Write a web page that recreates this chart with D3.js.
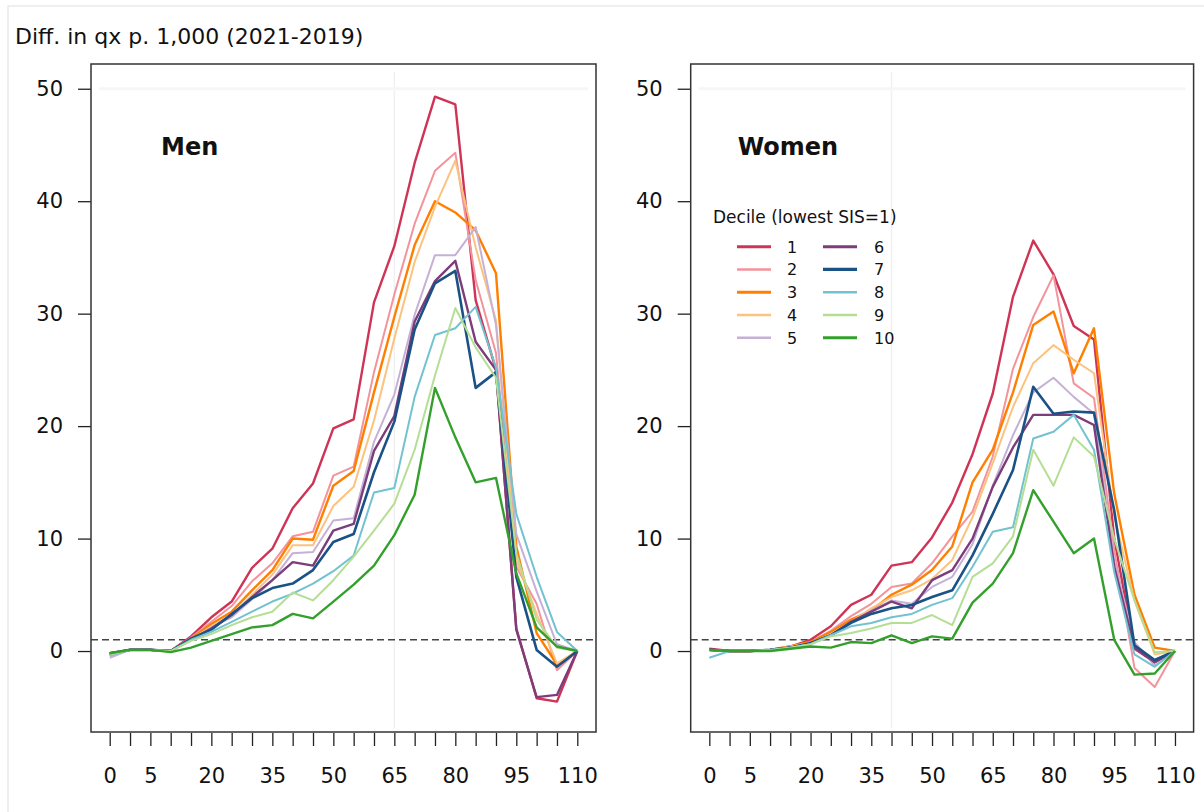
<!DOCTYPE html>
<html>
<head>
<meta charset="utf-8">
<script src="https://cdn.jsdelivr.net/npm/d3@7"></script>
<style>
  body { margin: 0; background: #fff; }
  svg { display: block; }
  text { font-family: "DejaVu Sans", sans-serif; fill: #111; }
</style>
</head>
<body>
<svg id="chart" width="1204" height="812"></svg>
<script>
// Age groups on the x axis (one tick per group) and the groups that carry a label
const ageGroups = ["0","1","5","10","15","20","25","30","35","40","45","50","55","60",
                   "65","70","75","80","85","90","95","100","105","110"];
const labelledAges = ["0","5","20","35","50","65","80","95","110"];
const yTicks = [0, 10, 20, 30, 40, 50];

const deciles = ["1","2","3","4","5","6","7","8","9","10"];
const decileColors = ["#cf3457","#f3939b","#ff7f00","#fcc27e","#c6b1d6",
                      "#7d3c7a","#1a5285","#72c2d0","#b5de95","#33a02c"];
const decileWidths = [2.4, 2, 2.4, 2, 2, 2.4, 2.6, 2, 2, 2.4];

// Difference in death probability per 1,000 (2021 minus 2019), men, by decile
const men1  = [-0.3,0.1,0.1,0.0,1.3,3.0,4.4,7.4,9.1,12.7,14.9,19.8,20.6,31.0,36.0,43.4,49.3,48.6,31.2,25.0,2.0,-4.2,-4.5,0];
const men2  = [-0.4,0.1,0.1,0.0,1.2,2.6,4.0,6.2,7.8,10.2,10.6,15.6,16.4,24.8,31.7,38.0,42.7,44.3,33.0,26.5,7.5,4.2,-1.7,0];
const men3  = [-0.2,0.1,0.1,0.0,1.1,2.4,3.5,5.4,7.2,10.0,9.9,14.7,16.0,23.0,29.7,36.1,40.0,39.0,37.4,33.6,9.3,1.6,-1.2,0];
const men4  = [-0.3,0.1,0.1,0.0,1.0,2.2,3.2,5.0,6.8,9.4,9.4,12.9,14.6,20.5,27.8,34.6,39.5,43.6,35.9,29.4,8.1,3.3,-1.1,0];
const men5  = [-0.6,0.1,0.1,0.0,1.0,2.1,3.0,4.6,6.3,8.7,8.8,11.6,11.8,18.6,22.8,29.9,35.2,35.2,37.7,29.0,10.4,5.3,0.6,0];
const men6  = [-0.3,0.1,0.1,0.0,1.0,2.0,3.2,4.8,6.3,7.9,7.6,10.7,11.3,17.8,20.9,29.3,32.9,34.7,27.5,25.0,1.9,-4.1,-3.9,0];
const men7  = [-0.2,0.1,0.1,0.0,1.1,1.9,3.3,4.7,5.6,6.0,7.2,9.7,10.4,15.9,20.4,28.6,32.7,33.8,23.4,24.8,6.6,0.1,-1.4,0];
const men8  = [-0.4,0.1,0.1,0.0,1.0,1.7,2.6,3.5,4.4,5.1,6.0,7.1,8.5,14.1,14.5,22.6,28.1,28.7,30.6,25.2,12.2,6.6,1.7,0];
const men9  = [-0.3,0.1,0.1,0.0,0.9,1.5,2.3,3.0,3.5,5.2,4.5,6.3,8.4,10.7,13.1,17.9,24.5,30.5,27.0,24.3,8.7,2.8,0.3,0];
const men10 = [-0.2,0.1,0.1,-0.1,0.3,0.9,1.5,2.1,2.3,3.3,2.9,4.4,5.9,7.6,10.3,13.9,23.4,19.0,15.0,15.4,6.9,2.1,0.4,0];

// Same measure for women
const women1  = [0.2,0.0,0.0,0.1,0.4,1.0,2.2,4.1,5.0,7.6,7.9,10.1,13.2,17.5,22.9,31.5,36.5,33.5,28.9,27.7,10.0,0.2,-1.0,0];
const women2  = [0.1,0.0,0.0,0.1,0.4,0.8,1.8,3.1,4.2,5.7,6.0,7.8,10.2,12.4,17.3,25.1,29.7,33.4,23.8,22.5,9.0,-1.5,-3.2,0];
const women3  = [0.1,0.0,0.0,0.1,0.4,0.8,1.7,2.8,3.6,5.0,5.9,7.2,9.3,15.0,17.9,23.0,29.0,30.2,24.7,28.7,14.0,5.0,0.3,0];
const women4  = [0.1,0.0,0.0,0.1,0.4,0.7,1.5,2.6,3.8,4.8,5.4,6.4,8.1,11.9,16.7,21.7,25.6,27.2,25.9,24.7,12.0,4.5,-0.3,0];
const women5  = [0.1,0.0,0.0,0.1,0.3,0.7,1.4,2.5,3.6,4.5,4.2,5.7,6.6,9.5,14.7,19.2,23.0,24.3,22.6,21.1,8.0,0.8,-1.3,0];
const women6  = [0.1,0.0,0.0,0.1,0.3,0.7,1.4,2.6,3.5,4.4,3.8,6.3,7.2,10.0,14.6,18.1,21.0,21.0,21.0,20.1,7.5,0.3,-1.0,0];
const women7  = [0.1,0.0,0.0,0.1,0.3,0.7,1.4,2.5,3.3,3.8,4.1,4.8,5.4,8.5,12.2,16.1,23.5,21.1,21.3,21.2,12.5,0.5,-0.8,0];
const women8  = [-0.6,0.0,0.0,0.1,0.3,0.6,1.4,2.2,2.5,3.0,3.3,4.1,4.7,7.5,10.6,11.0,18.9,19.5,21.0,17.9,7.0,-0.3,-1.4,0];
const women9  = [0.1,0.0,0.0,0.1,0.3,0.6,1.3,1.6,2.0,2.5,2.5,3.2,2.3,6.6,7.8,10.2,17.9,14.7,19.0,17.3,10.0,4.5,-0.1,0];
const women10 = [0.1,0.0,0.0,0.0,0.2,0.4,0.3,0.8,0.7,1.4,0.7,1.3,1.1,4.3,6.0,8.7,14.3,11.5,8.7,10.0,1.0,-2.1,-2.0,0];

const menSeries   = [men1, men2, men3, men4, men5, men6, men7, men8, men9, men10];
const womenSeries = [women1, women2, women3, women4, women5, women6, women7, women8, women9, women10];

const referenceLevel = 1;           // dashed horizontal reference
const yDomain = [-7.2, 52.2];

const svg = d3.select("#chart");

svg.append("rect")
  .attr("x", 8).attr("y", 6).attr("width", 1400).attr("height", 1000)
  .attr("fill", "none").attr("stroke", "#e4e4e4").attr("stroke-width", 1.2);

svg.append("text")
  .attr("x", 15).attr("y", 44)
  .style("font-size", "22px")
  .text("Diff. in qx p. 1,000 (2021-2019)");

const plotTop = 64, plotBottom = 732;
const y = d3.scaleLinear().domain(yDomain).range([plotBottom, plotTop]);

function drawPanel(left, right, title, series, gridIndex, withLegend) {
  const x = d3.scaleLinear().domain([-0.92, ageGroups.length - 1 + 0.92]).range([left, right]);
  const g = svg.append("g");

  // faint guide lines
  g.append("line")
    .attr("x1", x(gridIndex)).attr("x2", x(gridIndex))
    .attr("y1", plotTop + 8).attr("y2", plotBottom - 4)
    .attr("stroke", "#f0f0f0").attr("stroke-width", 1.5);
  g.append("line")
    .attr("x1", left + 8).attr("x2", right - 8)
    .attr("y1", y(50)).attr("y2", y(50))
    .attr("stroke", "#f6f6f6").attr("stroke-width", 3);

  // y axis
  const yAxis = g.append("g")
    .attr("transform", `translate(${left},0)`)
    .call(d3.axisLeft(y).tickValues(yTicks).tickSize(13).tickPadding(15));
  // x axis
  const xAxis = g.append("g")
    .attr("transform", `translate(0,${plotBottom + 1})`)
    .call(d3.axisBottom(x).tickValues(d3.range(ageGroups.length))
      .tickFormat(i => labelledAges.includes(ageGroups[i]) ? ageGroups[i] : "")
      .tickSize(13).tickPadding(22));
  [yAxis, xAxis].forEach(a => {
    a.select(".domain").remove();
    a.selectAll(".tick line").attr("stroke", "#222").attr("stroke-width", 1.3);
    a.selectAll(".tick text").style("font-size", "21px")
      .style("font-family", "'DejaVu Sans', sans-serif").attr("fill", "#111");
  });

  // reference line
  g.append("line")
    .attr("x1", left).attr("x2", right)
    .attr("y1", y(referenceLevel)).attr("y2", y(referenceLevel))
    .attr("stroke", "#444").attr("stroke-width", 1.5)
    .attr("stroke-dasharray", "7,4");

  const line = d3.line().x((d, i) => x(i)).y(d => y(d));
  series.forEach((vals, k) => {
    g.append("path")
      .datum(vals)
      .attr("d", line)
      .attr("fill", "none")
      .attr("stroke", decileColors[k])
      .attr("stroke-width", decileWidths[k])
      .attr("stroke-linejoin", "round");
  });

  // frame
  g.append("rect")
    .attr("x", left).attr("y", plotTop)
    .attr("width", right - left).attr("height", plotBottom - plotTop)
    .attr("fill", "none").attr("stroke", "#333").attr("stroke-width", 1.5);

  g.append("text")
    .attr("x", left + (title === "Men" ? 70 : 47)).attr("y", 155)
    .style("font-size", "24px").style("font-weight", "bold")
    .text(title);

  if (withLegend) {
    const lg = g.append("g");
    lg.append("text").attr("x", 713).attr("y", 223)
      .style("font-size", "17px").attr("fill", "#222")
      .text("Decile (lowest SIS=1)");
    deciles.forEach((d, k) => {
      const col = Math.floor(k / 5), row = k % 5;
      const lx = col === 0 ? 737 : 823;
      const ly = 246.7 + row * 22.75;
      lg.append("line")
        .attr("x1", lx).attr("x2", lx + 34)
        .attr("y1", ly).attr("y2", ly)
        .attr("stroke", decileColors[k]).attr("stroke-width", decileWidths[k] + 0.6);
      lg.append("text")
        .attr("x", col === 0 ? 787 : 874).attr("y", ly + 6)
        .style("font-size", "16px").attr("fill", "#222")
        .text(d);
    });
  }
}

drawPanel(91, 596, "Men", menSeries, 14, false);
drawPanel(690.7, 1193.6, "Women", womenSeries, 9, true);
</script>
</body>
</html>
